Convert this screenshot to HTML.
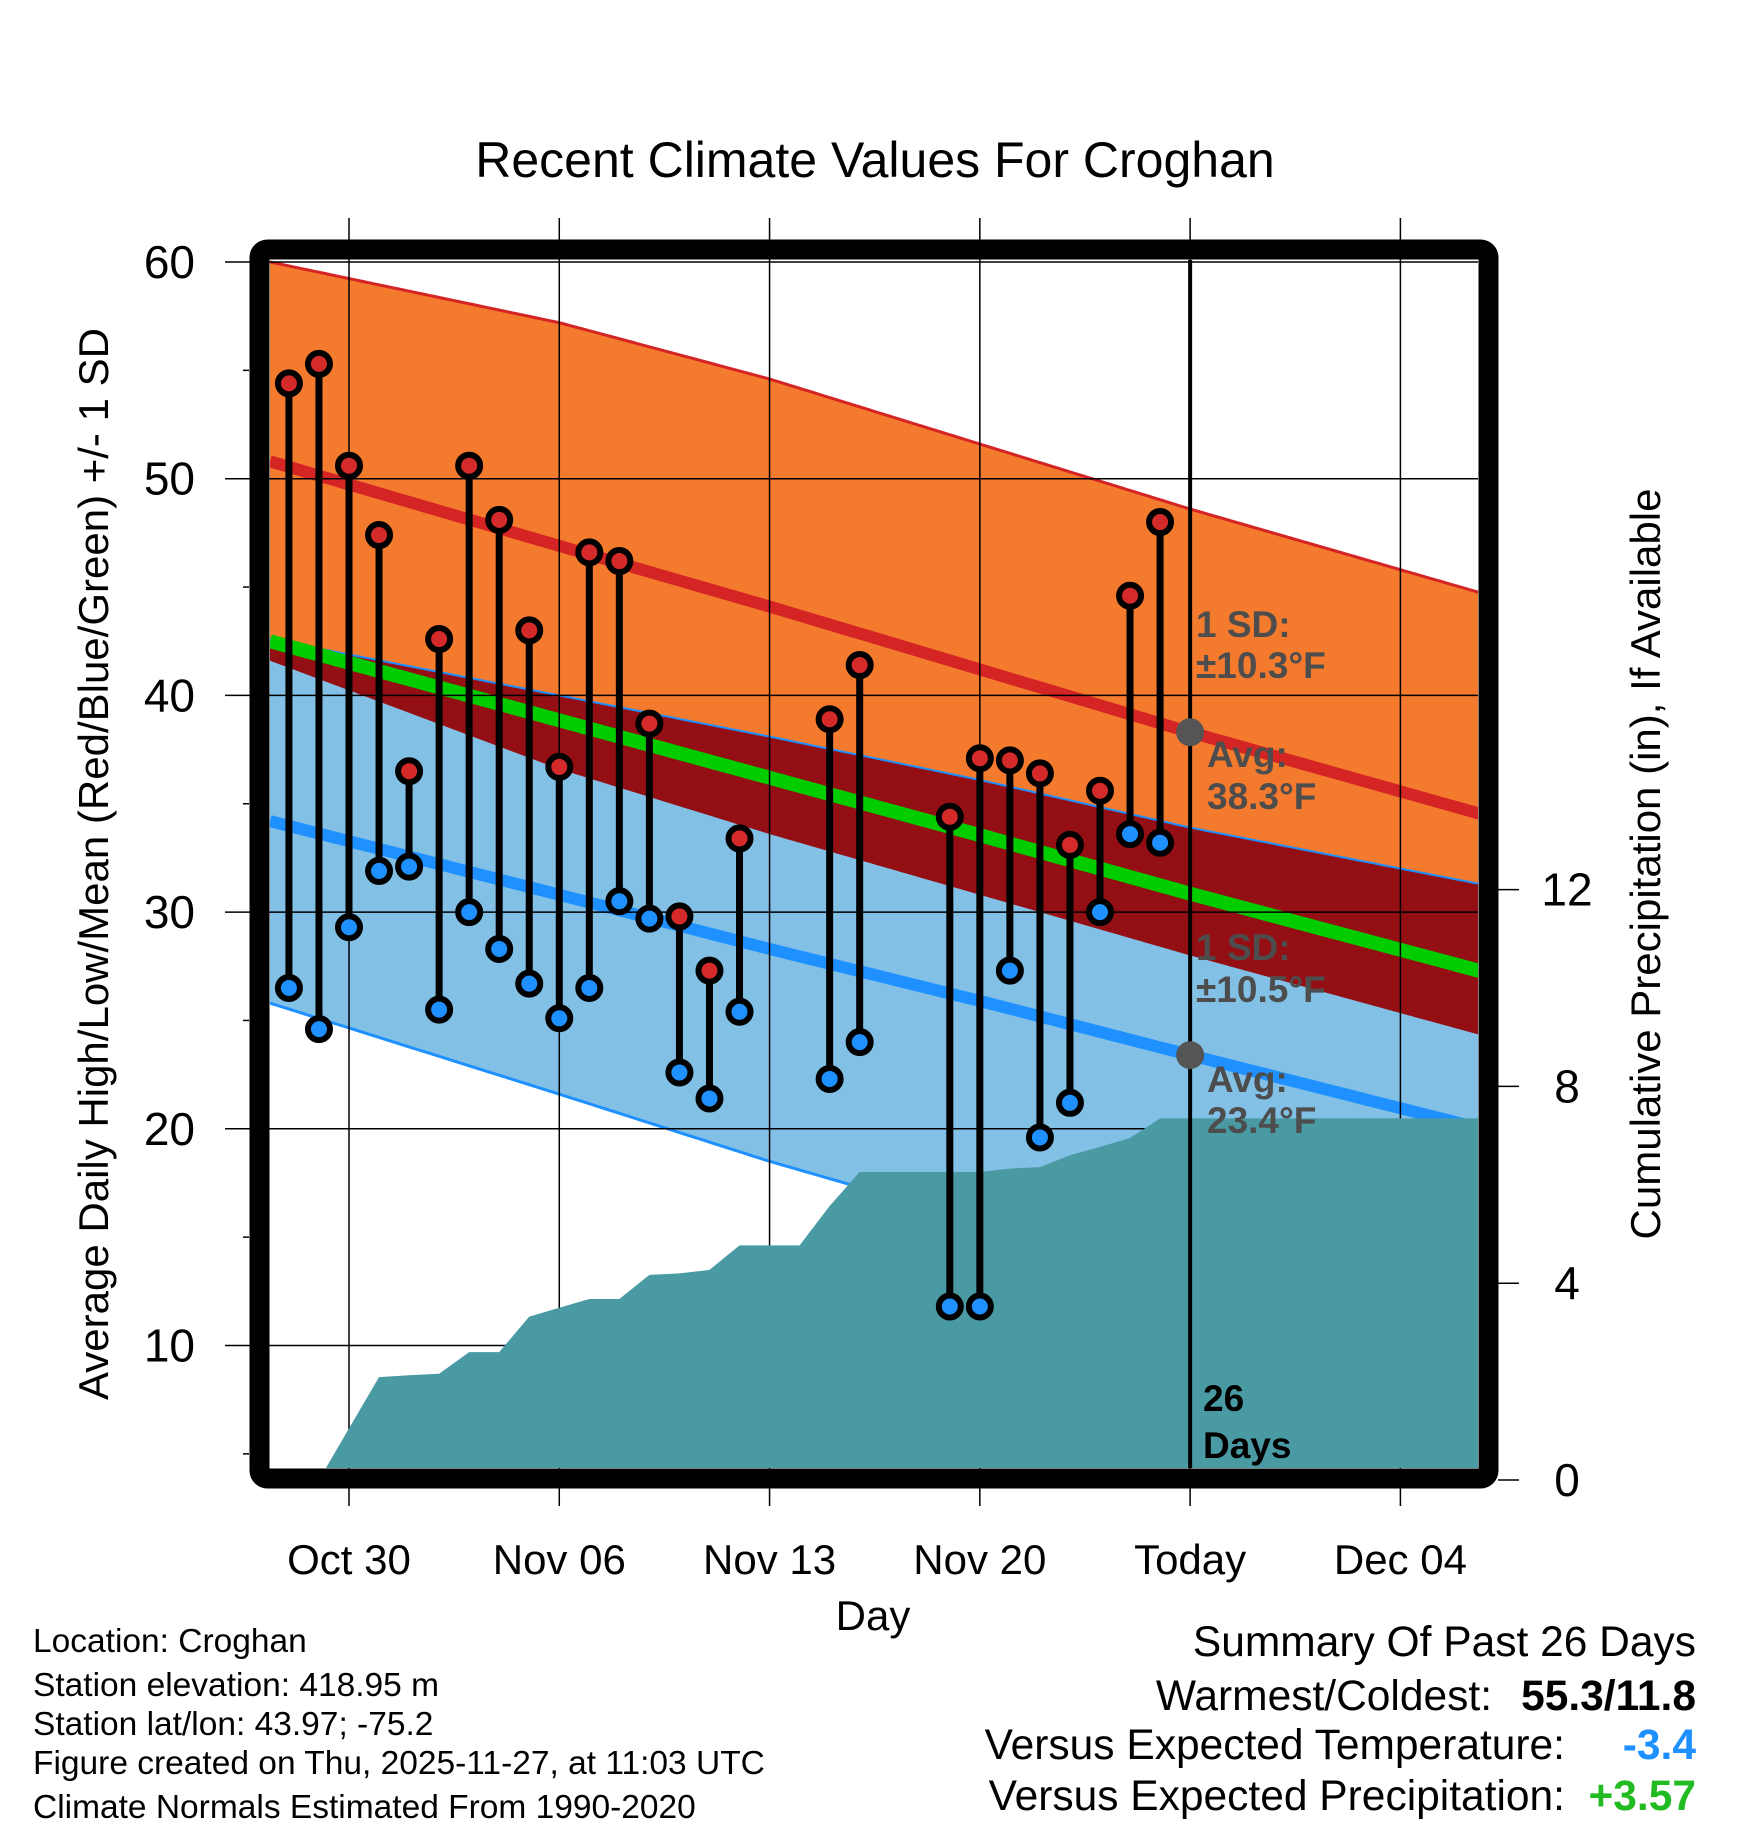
<!DOCTYPE html>
<html><head><meta charset="utf-8"><style>
html,body{margin:0;padding:0;background:#fff}
svg{display:block;font-family:"Liberation Sans",Arial,sans-serif}
</style></head><body>
<svg id="chart" width="1748" height="1828" viewBox="0 0 1748 1828" xmlns="http://www.w3.org/2000/svg">
<defs><clipPath id="plotclip"><rect x="270" y="260" width="1208" height="1208"/></clipPath></defs>
<g id="bands" clip-path="url(#plotclip)"></g>
<g id="grid"></g>
<g id="precip" clip-path="url(#plotclip)"></g>
<g id="marks"></g>
<rect x="259.5" y="249.5" width="1229" height="1229" rx="8" fill="none" stroke="#000" stroke-width="20"/>
<g id="labels"></g>
<text x="875" y="177" font-size="50" text-anchor="middle">Recent Climate Values For Croghan</text>
<text transform="translate(108,864) rotate(-90)" font-size="42" text-anchor="middle">Average Daily High/Low/Mean (Red/Blue/Green) +/- 1 SD</text>
<text transform="translate(1660,864) rotate(-90)" font-size="42" text-anchor="middle">Cumulative Precipitation (in), If Available</text>
<text x="873" y="1630" font-size="42" text-anchor="middle">Day</text>
<g font-size="33.5">
<text x="33" y="1652">Location: Croghan</text>
<text x="33" y="1696">Station elevation: 418.95 m</text>
<text x="33" y="1735">Station lat/lon: 43.97; -75.2</text>
<text x="33" y="1774">Figure created on Thu, 2025-11-27, at 11:03 UTC</text>
<text x="33" y="1818">Climate Normals Estimated From 1990-2020</text>
</g>
<g font-size="42.5" text-anchor="end">
<text x="1696" y="1656">Summary Of Past 26 Days</text>
<text x="1492" y="1710">Warmest/Coldest:</text>
<text x="1696" y="1710" font-weight="bold">55.3/11.8</text>
<text x="1565" y="1759">Versus Expected Temperature:</text>
<text x="1696" y="1759" font-weight="bold" fill="#1e90ff">-3.4</text>
<text x="1565" y="1810">Versus Expected Precipitation:</text>
<text x="1696" y="1810" font-weight="bold" fill="#22bb22">+3.57</text>
</g>
</svg>
<script>
const NS="http://www.w3.org/2000/svg";
const normDays=[-2.63,7,14,21,28,38];
const highMean=[50.8,46.9,44.1,41.2,38.3,34.4];
const highSD=[9.2,10.3,10.5,10.4,10.3,10.2];
const lowMean=[34.2,30.8,28.3,25.9,23.4,19.9];
const lowSD=[8.4,9.2,9.8,10.2,10.5,11.3];
const obsDays=[-2,-1,0,1,2,3,4,5,6,7,8,9,10,11,12,13,16,17,20,21,22,23,24,25,26,27];
const highs=[54.4,55.3,50.6,47.4,36.5,42.6,50.6,48.1,43.0,36.7,46.6,46.2,38.7,29.8,27.3,33.4,38.9,41.4,34.4,37.1,37.0,36.4,33.1,35.6,44.6,48.0];
const lows=[26.5,24.6,29.3,31.9,32.1,25.5,30.0,28.3,26.7,25.1,26.5,30.5,29.7,22.6,21.4,25.4,22.3,24.0,11.8,11.8,27.3,19.6,21.2,30.0,33.6,33.2];
const precipDays=[-3,-1,0,1,2,3,4,5,6,7,8,9,10,11,12,13,14,15,16,17,18,19,20,21,22,23,24,25,26,27,38];
const precipVals=[0,0,1.05,2.09,2.13,2.16,2.6,2.6,3.32,3.5,3.68,3.68,4.17,4.2,4.27,4.77,4.77,4.77,5.57,6.26,6.26,6.26,6.26,6.26,6.33,6.36,6.6,6.77,6.95,7.35,7.35];
const tempTicks=[10,20,30,40,50,60];
const precipTicks=[0,4,8,12];
const dateTicks=["Oct 30","Nov 06","Nov 13","Nov 20","Today","Dec 04"];
const dateTickDays=[0,7,14,21,28,35];
const todayDay=28;
const X=d=>349+d*30.04;
const Y=t=>262+(60-t)*21.67;
const P=p=>1480-p*49.2;
function interp(arr,d){for(let i=0;i<normDays.length-1;i++){if(d<=normDays[i+1]||i==normDays.length-2){const f=(d-normDays[i])/(normDays[i+1]-normDays[i]);return arr[i]+f*(arr[i+1]-arr[i]);}}}
function el(tag,attrs,parent){const n=document.createElementNS(NS,tag);for(const k in attrs)n.setAttribute(k,attrs[k]);parent.appendChild(n);return n;}
const samp=[];for(let d=-2.63;d<=38.01;d+=0.25)samp.push(d);
const hm=d=>interp(highMean,d),hs=d=>interp(highSD,d),lm=d=>interp(lowMean,d),ls=d=>interp(lowSD,d);
function band(top,bot){let pts=samp.map(d=>X(d)+","+Y(top(d)));pts=pts.concat(samp.slice().reverse().map(d=>X(d)+","+Y(bot(d))));return pts.join(" ");}
function line(f){return samp.map(d=>X(d)+","+Y(f(d))).join(" ");}
const bands=document.getElementById('bands');
let e;
e=el('polygon',{points:band(d=>hm(d)+hs(d),d=>hm(d)-hs(d)),fill:'#f47a2e'},bands);


e=el('polygon',{points:band(d=>lm(d)+ls(d),d=>lm(d)-ls(d)),fill:'#82c0e6'},bands);


e=el('polygon',{points:band(d=>Math.min(hm(d)+hs(d),lm(d)+ls(d)),d=>Math.max(hm(d)-hs(d),lm(d)-ls(d))),fill:'#930f14'},bands);


e=el('polyline',{points:line(d=>hm(d)+hs(d)),fill:'none',stroke:'#d42424','stroke-width':3},bands);


e=el('polyline',{points:line(d=>lm(d)+ls(d)),fill:'none',stroke:'#1e90ff','stroke-width':2},bands);


e=el('polyline',{points:line(d=>lm(d)-ls(d)),fill:'none',stroke:'#1e90ff','stroke-width':3},bands);


e=el('polyline',{points:line(hm),fill:'none',stroke:'#d42424','stroke-width':12},bands);


e=el('polyline',{points:line(lm),fill:'none',stroke:'#1e90ff','stroke-width':12},bands);


e=el('polyline',{points:line(d=>(hm(d)+lm(d))/2),fill:'none',stroke:'#00cc00','stroke-width':14},bands);


const grid=document.getElementById('grid');
const labels=document.getElementById('labels');
tempTicks.forEach(t=>{
 e=el('line',{x1:225,x2:1478,y1:Y(t),y2:Y(t),stroke:'#000','stroke-width':1.5},grid);
 
 
 e=el('text',{x:195,y:Y(t)+16,'font-size':46,'text-anchor':'end'},labels);e.textContent=t;
 
 
 e=el('line',{x1:243,x2:249,y1:Y(t-5),y2:Y(t-5),stroke:'#000','stroke-width':1.5},grid);
 
 
});
dateTicks.forEach((lab,i)=>{
 const x=X(dateTickDays[i]);
 e=el('line',{x1:x,x2:x,y1:218,y2:1506,stroke:'#000','stroke-width':1.5},grid);
 
 
 e=el('text',{x:x,y:1574,'font-size':42,'text-anchor':'middle'},labels);e.textContent=lab;
 
 
});
precipTicks.forEach(p=>{
 e=el('line',{x1:1498,x2:1519,y1:P(p),y2:P(p),stroke:'#000','stroke-width':1.5},labels);
 
 
 e=el('text',{x:1567,y:P(p)+16,'font-size':46,'text-anchor':'middle'},labels);e.textContent=p;
 
 
});
const pr=document.getElementById('precip');
let pp=precipDays.map((d,i)=>X(d)+","+P(precipVals[i]));
pp.push(X(precipDays[precipDays.length-1])+","+P(-1));pp.push(X(precipDays[0])+","+P(-1));
e=el('polygon',{points:pp.join(" "),fill:'#4a9aa4'},pr);


const marks=document.getElementById('marks');
e=el('line',{x1:X(todayDay),x2:X(todayDay),y1:260,y2:1468,stroke:'#000','stroke-width':4},marks);


e=el('circle',{cx:X(todayDay),cy:Y(hm(todayDay)),r:14,fill:'#555'},marks);


e=el('circle',{cx:X(todayDay),cy:Y(lm(todayDay)),r:14,fill:'#555'},marks);


obsDays.forEach((d,i)=>{
 const x=X(d);
 e=el('line',{x1:x,x2:x,y1:Y(highs[i]),y2:Y(lows[i]),stroke:'#000','stroke-width':7},marks);
 
 
 e=el('circle',{cx:x,cy:Y(highs[i]),r:11,fill:'#d42a2a',stroke:'#000','stroke-width':6},marks);
 
 
 e=el('circle',{cx:x,cy:Y(lows[i]),r:11,fill:'#1e90ff',stroke:'#000','stroke-width':6},marks);
 
 
});
const ann=[["1 SD:",1196,637,'#4d4d4d'],["±10.3°F",1196,678,'#4d4d4d'],["Avg:",1207,767,'#4d4d4d'],["38.3°F",1207,809,'#4d4d4d'],
["1 SD:",1196,960,'#4d4d4d'],["±10.5°F",1196,1002,'#4d4d4d'],["Avg:",1207,1092,'#4d4d4d'],["23.4°F",1207,1133,'#4d4d4d'],
["26",1203,1411,'#000'],["Days",1203,1458,'#000']];
ann.forEach(a=>{e=el('text',{x:a[1],y:a[2],'font-size':37,'font-weight':'bold',fill:a[3]},labels);e.textContent=a[0];
 
 });
</script>
</body></html>
